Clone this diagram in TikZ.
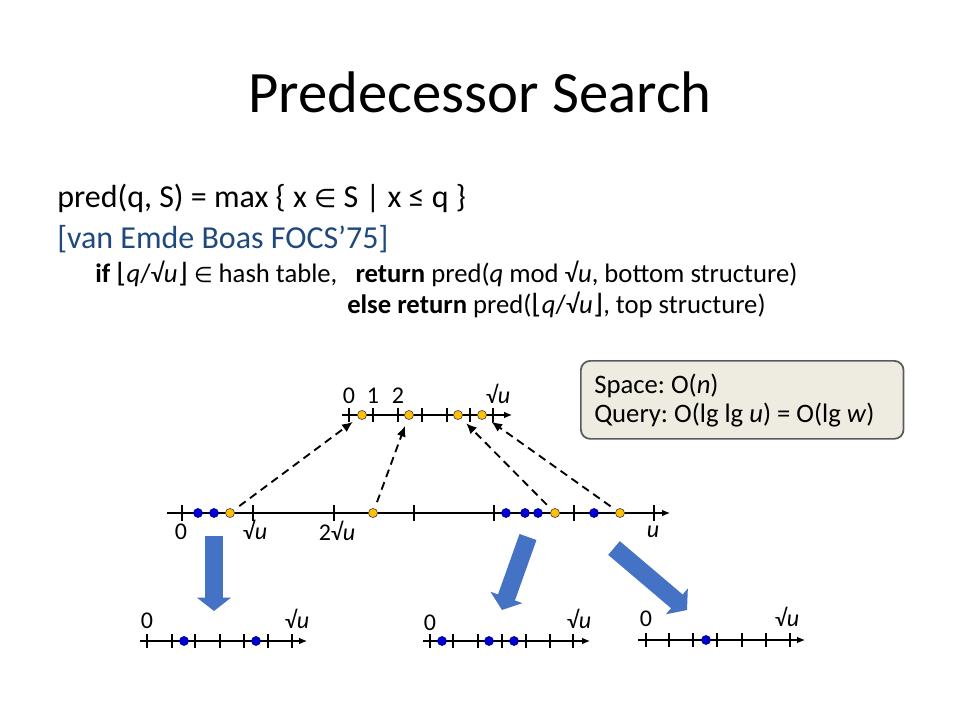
\documentclass[tikz,border=0pt]{standalone}
\usepackage{fontspec}
\setmainfont{Carlito}
\newfontfamily\sym{DejaVu Sans}
\usetikzlibrary{arrows.meta}
\definecolor{vblue}{RGB}{31,73,125}
\definecolor{dotblue}{RGB}{0,0,210}
\definecolor{dotorange}{RGB}{255,192,0}
\definecolor{boxfill}{RGB}{238,236,225}
\definecolor{boxline}{RGB}{90,90,90}
\definecolor{barrow}{RGB}{68,114,196}
\newcommand\rtu{√\textit{u}}
\newcommand\flq{{\sym ⌊}}
\newcommand\frq{{\sym ⌋}}
\newcommand\elem{{\sym\scalebox{0.8}{∈}}}
\frenchspacing
\begin{document}
\begin{tikzpicture}[x=0.75pt,y=-0.75pt,
  bdot/.style={circle,fill=dotblue,draw=blue!50!black,line width=0.4pt,inner sep=0pt,minimum size=6.8pt},
  odot/.style={circle,fill=dotorange,draw=black!70,line width=0.5pt,inner sep=0pt,minimum size=6.8pt},
  axisline/.style={line width=0.8pt,-{Latex[length=6pt,width=5pt]}},
  tk/.style={line width=1.4pt},
  lab/.style={font=\fontsize{18}{20}\selectfont,inner sep=0pt,anchor=base},
  dasharrow/.style={line width=1.4pt,dash pattern=on 6pt off 4pt,-{Latex[length=8pt,width=7pt]},shorten >=5pt,shorten <=5pt},
  blockarrow/.style={line width=13.5pt,draw=barrow,-{Triangle[length=10pt,width=25pt]}},
  bodytext/.style={inner sep=0pt,anchor=base west}
]
\useasboundingbox (0,0) rectangle (960,720);

% title
\node[font=\fontsize{44}{50}\selectfont] (title) at (480,92) {Predecessor Search};

% text
\node[bodytext,font=\fontsize{24}{28}\selectfont] (pred) at (57,208)
  {pred(q, S) = max \{ x \elem{} S | x ≤ q \}};
\node[bodytext,font=\fontsize{24}{28}\selectfont,text=vblue] (ref) at (57,249)
  {[van Emde Boas FOCS’75]};
\node[bodytext,font=\fontsize{20}{22}\selectfont] (ifl) at (95,282)
  {\textbf{if} \flq\textit{q}/\rtu\frq\ \elem{} hash table, \ \ \textbf{return} pred(\textit{q} mod \rtu, bottom structure)};
\node[bodytext,font=\fontsize{20}{22}\selectfont] (elsel) at (347,314)
  {\textbf{else return} pred(\flq\textit{q}/\rtu\frq, top structure)};

% box
\node[draw=boxline,line width=1.3pt,fill=boxfill,rounded corners=7pt,anchor=north west,
  minimum width=242pt,minimum height=58.5pt,inner sep=0pt] (box) at (580,360) {};
\node[bodytext,font=\fontsize{20}{22}\selectfont] (sp) at (594,393) {Space: O(\textit{n})};
\node[bodytext,font=\fontsize{20}{22}\selectfont] (qu) at (594,422) {Query: O(lg lg \textit{u}) = O(lg \textit{w})};

% top structure
\coordinate (ts) at (342,415);
\coordinate (te) at (512,415);
\draw[axisline] (ts) -- (te);
\foreach \x in {349,373,398,422,447,470,493} \draw[tk] (\x,408) -- (\x,422);
\node[odot] (t1) at (362,415) {};
\node[odot] (t2) at (409,415) {};
\node[odot] (t3) at (458,415) {};
\node[odot] (t4) at (482,415) {};
\node[lab] (tl0) at (349,403) {0};
\node[lab] (tl1) at (373,403) {1};
\node[lab] (tl2) at (398,403) {2};
\node[lab] (tlu) at (498,403) {\rtu};

% main line
\coordinate (ms) at (167,513);
\coordinate (me) at (670,513);
\draw[axisline] (ms) -- (me);
\foreach \x in {182,253,334,414,494,574,654} \draw[tk] (\x,505) -- (\x,521);
\node[bdot] (m1) at (198,513) {};
\node[bdot] (m2) at (214,513) {};
\node[odot] (m3) at (230,513) {};
\node[odot] (m4) at (373,513) {};
\node[bdot] (m5) at (506,513) {};
\node[bdot] (m6) at (525,513) {};
\node[bdot] (m7) at (538,513) {};
\node[odot] (m8) at (555,513) {};
\node[bdot] (m9) at (594,513) {};
\node[odot] (m10) at (620,513) {};
\node[lab] (ml0) at (181,539) {0};
\node[lab] (mlu) at (255,539) {\rtu};
\node[lab] (ml2u) at (337,540) {2\rtu};
\node[lab] (mlend) at (653,537) {\textit{u}};

% dashed arrows
\draw[dasharrow] (m3) -- (t1);
\draw[dasharrow] (m4) -- (t2);
\draw[dasharrow] (m8) -- (t3);
\draw[dasharrow] (m10) -- (t4);

% bottom structure A
\draw[axisline] (140,641) coordinate (as) -- (307,641) coordinate (ae);
\foreach \x in {147,172,195,220,244,268,292} \draw[tk] (\x,634) -- (\x,648);
\node[bdot] (a1) at (184,641) {};
\node[bdot] (a2) at (256,641) {};
\node[lab] (al0) at (147,628) {0};
\node[lab] (alu) at (297,628) {\rtu};

% bottom structure B
\draw[axisline] (423,641) coordinate (bs) -- (590,641) coordinate (be);
\foreach \x in {430,453,478,502,526,550,573} \draw[tk] (\x,634) -- (\x,648);
\node[bdot] (b1) at (442,641) {};
\node[bdot] (b2) at (489,641) {};
\node[bdot] (b3) at (514,641) {};
\node[lab] (bl0) at (430,630) {0};
\node[lab] (blu) at (579,628) {\rtu};

% bottom structure C
\draw[axisline] (638,640) coordinate (cs) -- (805,640) coordinate (ce);
\foreach \x in {646,669,693,717,742,766,790} \draw[tk] (\x,633) -- (\x,647);
\node[bdot] (c1) at (706,640) {};
\node[lab] (cl0) at (646,626) {0};
\node[lab] (clu) at (787,626) {\rtu};

% block arrows
\coordinate (ba1) at (214,536); \coordinate (ba2) at (214,611);
\coordinate (bb1) at (528,537); \coordinate (bb2) at (502,610);
\coordinate (bc1) at (614,548); \coordinate (bc2) at (687,610);
\draw[blockarrow] (ba1) -- (ba2);
\draw[blockarrow] (bb1) -- (bb2);
\draw[blockarrow] (bc1) -- (bc2);
\end{tikzpicture}
\end{document}
